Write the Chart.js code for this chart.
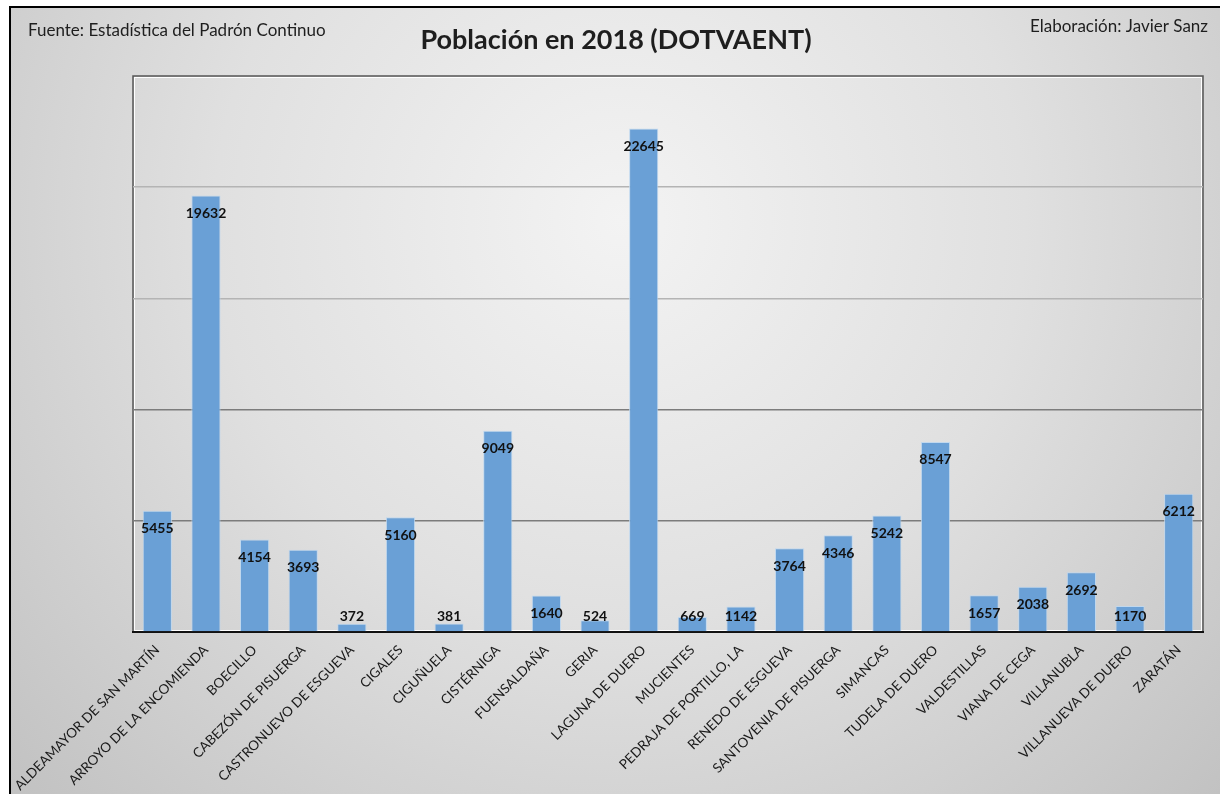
<!DOCTYPE html>
<html>
<head>
<meta charset="utf-8">
<script src="https://cdn.jsdelivr.net/npm/chart.js@4.4.0/dist/chart.umd.min.js"></script>
<style>
  html, body { margin: 0; padding: 0; background: #ffffff; }
  #wrap { position: relative; width: 1220px; height: 794px; }
  canvas { display: block; }
</style>
</head>
<body>
<div id="wrap"><canvas id="c" width="1220" height="794"></canvas></div>
<script>
const categories = [
  "ALDEAMAYOR DE SAN MARTÍN", "ARROYO DE LA ENCOMIENDA", "BOECILLO", "CABEZÓN DE PISUERGA",
  "CASTRONUEVO DE ESGUEVA", "CIGALES", "CIGUÑUELA", "CISTÉRNIGA", "FUENSALDAÑA", "GERIA",
  "LAGUNA DE DUERO", "MUCIENTES", "PEDRAJA DE PORTILLO, LA", "RENEDO DE ESGUEVA",
  "SANTOVENIA DE PISUERGA", "SIMANCAS", "TUDELA DE DUERO", "VALDESTILLAS", "VIANA DE CEGA",
  "VILLANUBLA", "VILLANUEVA DE DUERO", "ZARATÁN"
];
const population2018 = [
  5455, 19632, 4154, 3693, 372, 5160, 381, 9049, 1640, 524,
  22645, 669, 1142, 3764, 4346, 5242, 8547, 1657, 2038, 2692, 1170, 6212
];
const yTicks = [0, 5000, 10000, 15000, 20000, 25000];

const titleText = "Población en 2018 (DOTVAENT)";
const sourceText = "Fuente: Estadística del Padrón Continuo";
const authorText = "Elaboración: Javier Sanz";

const FONT = "Lato, 'Open Sans', sans-serif";

const backgroundPlugin = {
  id: 'bg',
  beforeDraw(chart) {
    const ctx = chart.ctx;
    ctx.save();
    ctx.fillStyle = '#ffffff';
    ctx.fillRect(0, 0, chart.width, chart.height);
    const g = ctx.createRadialGradient(620, 220, 0, 620, 220, 900);
    g.addColorStop(0, '#f3f3f3');
    g.addColorStop(0.45, '#e0e0e0');
    g.addColorStop(1, '#bdbdbd');
    ctx.fillStyle = g;
    ctx.fillRect(10, 7, chart.width - 10, chart.height - 7);
    // frame
    ctx.strokeStyle = '#000000';
    ctx.lineWidth = 2;
    ctx.beginPath();
    ctx.moveTo(10, chart.height);
    ctx.lineTo(10, 7);
    ctx.lineTo(chart.width, 7);
    ctx.stroke();
    // plot frame (top, left, right)
    const a = chart.chartArea;
    ctx.strokeStyle = '#ffffff';
    ctx.lineWidth = 1;
    ctx.strokeRect(a.left + 1.5, a.top + 1.5, a.right - a.left - 3, a.bottom - a.top - 3);
    ctx.strokeStyle = '#555555';
    ctx.lineWidth = 1.5;
    ctx.beginPath();
    ctx.moveTo(a.left, a.bottom);
    ctx.lineTo(a.left, a.top);
    ctx.lineTo(a.right, a.top);
    ctx.lineTo(a.right, a.bottom);
    ctx.stroke();
    // texts
    ctx.fillStyle = '#1e1e1e';
    ctx.textBaseline = 'middle';
    ctx.textAlign = 'center';
    ctx.font = "bold 27px " + FONT;
    ctx.fillText(titleText, 616, 40);
    ctx.font = "17px " + FONT;
    ctx.textAlign = 'left';
    ctx.fillText(sourceText, 28, 31);
    ctx.textAlign = 'right';
    ctx.fillText(authorText, 1208, 27);
    ctx.restore();
  }
};

const valueLabelPlugin = {
  id: 'valueLabels',
  afterDatasetsDraw(chart) {
    const ctx = chart.ctx;
    const meta = chart.getDatasetMeta(0);
    ctx.save();
    ctx.font = "bold 14px " + FONT;
    ctx.fillStyle = '#111111';
    ctx.textAlign = 'center';
    ctx.textBaseline = 'middle';
    meta.data.forEach((bar, i) => {
      const y = Math.min(bar.y + 18, 616.5);
      ctx.fillText(String(population2018[i]), bar.x, y);
    });
    ctx.restore();
  }
};

new Chart(document.getElementById('c'), {
  type: 'bar',
  data: {
    labels: categories,
    datasets: [{
      data: population2018,
      backgroundColor: '#6aa0d6',
      borderColor: 'rgba(190,215,240,0.9)',
      borderWidth: { top: 1, left: 1, right: 1, bottom: 0 },
      categoryPercentage: 1.0,
      barPercentage: 0.6
    }]
  },
  options: {
    responsive: false,
    animation: false,
    devicePixelRatio: 1,
    layout: { padding: { left: 133, top: 76, right: 17, bottom: 0 } },
    plugins: {
      legend: { display: false },
      tooltip: { enabled: false },
      title: { display: false }
    },
    scales: {
      x: {
        offset: true,
        grid: { display: false },
        border: { display: true, color: '#111111', width: 2 },
        ticks: {
          autoSkip: false,
          maxRotation: 45,
          minRotation: 45,
          color: '#1a1a1a',
          font: { family: FONT, size: 13.5 },
          padding: 2
        },
        afterFit(scale) { scale.height = 162; }
      },
      y: {
        min: 0,
        max: 25000,
        afterBuildTicks(scale) { scale.ticks = yTicks.map(v => ({ value: v })); },
        ticks: { display: false },
        border: { display: false },
        grid: {
          drawTicks: false,
          lineWidth: 1.5,
          color(ctx) {
            const v = ctx.tick && ctx.tick.value;
            if (v === 0 || v === 25000) return 'rgba(0,0,0,0)';
            if (v <= 10000) return '#7c7c7c';
            return '#b4b4b4';
          }
        },
        afterFit(scale) { scale.width = 0; }
      }
    }
  },
  plugins: [backgroundPlugin, valueLabelPlugin]
});
</script>
</body>
</html>
